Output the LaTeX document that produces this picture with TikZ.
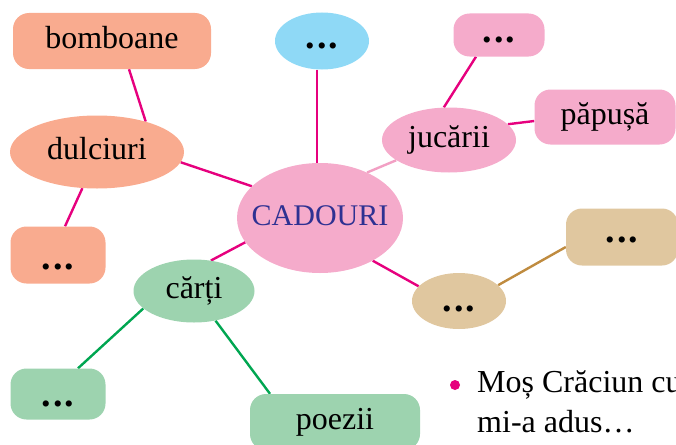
\documentclass[tikz,border=0pt]{standalone}
\usepackage{fontspec}
\setmainfont{Liberation Serif}
\usepackage{xcolor}
\definecolor{cSweet}{HTML}{F9AB8F}
\definecolor{cSky}{HTML}{8FD9F6}
\definecolor{cToy}{HTML}{F5ABCB}
\definecolor{cBook}{HTML}{9DD3AF}
\definecolor{cMisc}{HTML}{E0C79F}
\definecolor{cTitle}{HTML}{2E3192}
\definecolor{cLink}{HTML}{E6007E}
\definecolor{cLinkSoft}{HTML}{F2A0C4}
\definecolor{cBookLine}{HTML}{00A651}
\definecolor{cMiscLine}{HTML}{BF8B3F}
\usepackage{tikz}
\usetikzlibrary{shapes.geometric,backgrounds}
\newcommand{\moredots}{{\fontsize{38}{40}\selectfont\textbf{.\kern2pt.\kern2pt.}}}
\tikzset{
  node-box/.style={rounded corners=16pt,inner sep=0pt,
    font=\fontsize{32}{38}\selectfont,text height=22pt,text depth=7pt},
  node-oval/.style={ellipse,inner sep=0pt,
    font=\fontsize{32}{38}\selectfont,text height=22pt,text depth=7pt},
  node-sweet/.style={fill=cSweet},
  node-sky/.style={fill=cSky},
  node-toy/.style={fill=cToy},
  node-book/.style={fill=cBook},
  node-misc/.style={fill=cMisc},
  link/.style={line width=2.4pt,draw=cLink},
  link-soft/.style={line width=2.4pt,draw=cLinkSoft},
  link-book/.style={line width=2.4pt,draw=cBookLine},
  link-misc/.style={line width=2.4pt,draw=cMiscLine},
}

\begin{document}
\begin{tikzpicture}[x=1pt,y=-1pt]
  \useasboundingbox (0,0) rectangle (676,444);
  \clip (0,0) rectangle (676,444);
  \node[node-oval,node-toy,minimum width=166pt,minimum height=110pt,
    font=\fontsize{30}{36}\selectfont,text=cTitle,inner xsep=-14pt] (cadouri) at (320,218) {CADOURI};
  \node[node-oval,node-sky,minimum width=94pt,minimum height=57pt] (sky) at (322,41) {\moredots};
  % dulciuri
  \node[node-oval,node-sweet,minimum width=174pt,minimum height=73pt] (dulciuri) at (97,152) {dulciuri};
  \node[node-box,node-sweet,minimum width=198pt,minimum height=56pt] (bomboane) at (112,41) {bomboane};
  \node[node-box,node-sweet,minimum width=95pt,minimum height=57pt,text height=35pt] (dulc-more) at (58,255) {\moredots};
  % jucării
  \node[node-oval,node-toy,minimum width=134pt,minimum height=65pt] (jucarii) at (449,140) {jucării};
  \node[node-box,node-toy,minimum width=91pt,minimum height=43pt] (juc-more) at (499,35) {\moredots};
  \node[node-box,node-toy,minimum width=141pt,minimum height=55pt] (papusa) at (605,117) {păpușă};
  % cărți
  \node[node-oval,node-book,minimum width=121pt,minimum height=63pt] (carti) at (194,291) {cărți};
  \node[node-box,node-book,minimum width=95pt,minimum height=51pt,text height=31pt] (carti-more) at (58,394) {\moredots};
  \node[node-box,node-book,minimum width=170pt,minimum height=56pt] (poezii) at (335,422) {poezii};
  % ...
  \node[node-oval,node-misc,minimum width=94pt,minimum height=56pt,text height=27pt] (misc) at (459,301) {\moredots};
  \node[node-box,node-misc,minimum width=112pt,minimum height=57pt,text height=17pt] (misc-more) at (622,237) {\moredots};
  % note
  \node[circle,fill=cLink,minimum size=10pt,inner sep=0pt] (bullet) at (455,385) {};
  \node[anchor=north west,inner sep=0pt,align=left,
    font=\fontsize{32}{40}\selectfont] (note) at (477,370) {Moș Crăciun cu\\mi-a adus…};
  \begin{scope}[on background layer]
    \draw[link] ([xshift=17pt]bomboane.south) -- (dulciuri.32);
    \draw[link] ([xshift=-5pt]sky.south) -- ([xshift=-3pt]cadouri.north);
    \draw[link] (dulciuri.-7) -- (cadouri.155);
    \draw[link] (dulciuri.-112) -- ([xshift=7pt]dulc-more.north);
    \draw[link-soft] (cadouri.44) -- (jucarii.201);
    \draw[link] (jucarii.99) -- ([xshift=-23pt]juc-more.south);
    \draw[link] (jucarii.15) -- ([yshift=-4pt]papusa.west);
    \draw[link] (cadouri.198) -- (carti.61);
    \draw[link] (cadouri.-39) -- (misc.160);
    \draw[link-misc] (misc.22) -- ([yshift=-10pt]misc-more.west);
    \draw[link-book] (carti.199) -- ([xshift=20pt]carti-more.north);
    \draw[link-book] (carti.-54) -- ([xshift=-65pt]poezii.north);
  \end{scope}
\end{tikzpicture}
\end{document}
